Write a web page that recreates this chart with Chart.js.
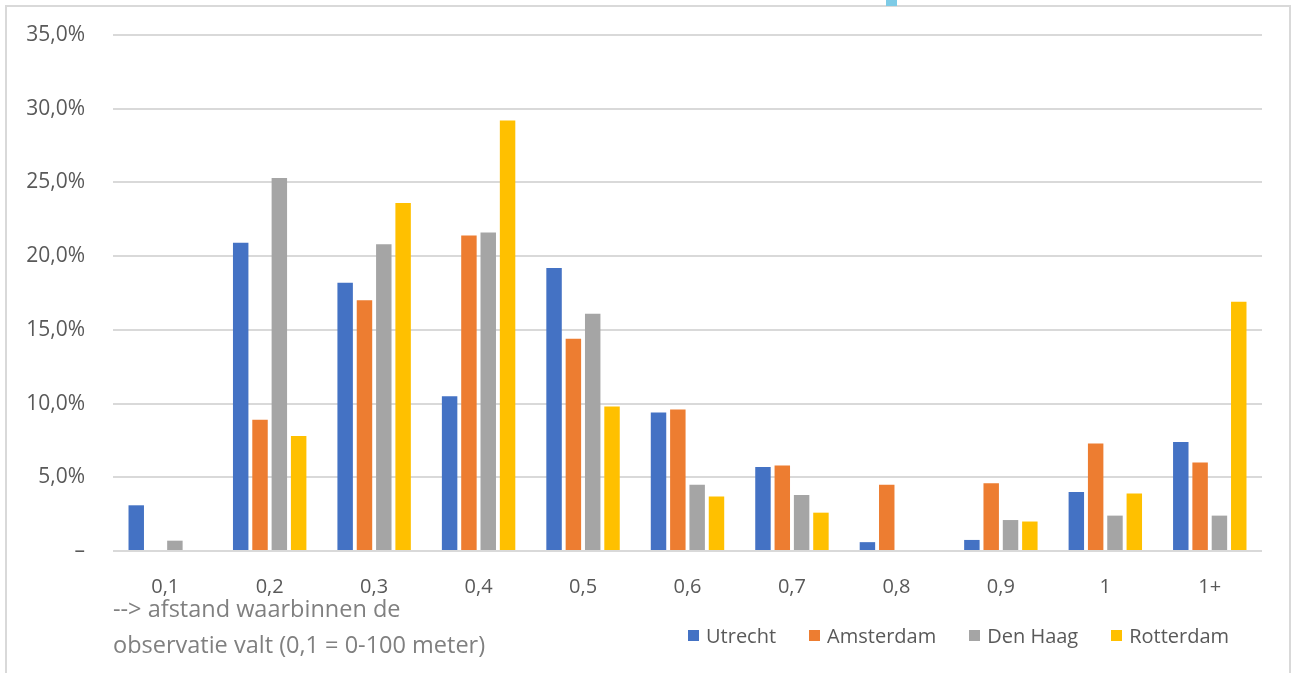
<!DOCTYPE html>
<html>
<head>
<meta charset="utf-8">
<script src="https://cdn.jsdelivr.net/npm/chart.js@4/dist/chart.umd.min.js"></script>
<style>
  html, body { margin: 0; padding: 0; background: #fff; }
  #wrap { position: relative; width: 1295px; height: 673px; overflow: hidden; }
  #frame { position: absolute; left: 5px; top: 5px; width: 1286px; height: 700px; border: 2px solid #d9d9d9; box-sizing: border-box; }
  #blip { position: absolute; left: 886px; top: 0; width: 11px; height: 6px; background: #7ecbe6; }
  #chart { position: absolute; left: 0; top: 0; }
  #legend { position: absolute; left: 688px; top: 622px; display: flex; gap: 33px; font: 20px "Open Sans", sans-serif; color: #595959; }
  #legend span.item { display: flex; align-items: center; gap: 7px; }
  #legend span.sw { width: 11px; height: 11px; display: inline-block; }
</style>
</head>
<body>
<div id="wrap">
  <div id="frame"></div>
  <div id="blip"></div>
  <canvas id="chart" width="1295" height="673"></canvas>
  <div id="legend"></div>
</div>
<script>
// ---------------------------------------------------------------------------
// Data (percentages)
// ---------------------------------------------------------------------------
const categories = ["0,1", "0,2", "0,3", "0,4", "0,5", "0,6", "0,7", "0,8", "0,9", "1", "1+"];
const utrecht   = [3.1, 20.9, 18.2, 10.5, 19.2, 9.4, 5.7, 0.6, 0.75, 4.0, 7.4];
const amsterdam = [0, 8.9, 17.0, 21.4, 14.4, 9.6, 5.8, 4.5, 4.6, 7.3, 6.0];
const denHaag   = [0.7, 25.3, 20.8, 21.6, 16.1, 4.5, 3.8, 0, 2.1, 2.4, 2.4];
const rotterdam = [0, 7.8, 23.6, 29.2, 9.8, 3.7, 2.6, 0, 2.0, 3.9, 16.9];
const yTickLabels = ["–", "5,0%", "10,0%", "15,0%", "20,0%", "25,0%", "30,0%", "35,0%"];
const xTitle = ["--> afstand waarbinnen de", "observatie valt (0,1 = 0-100 meter)"];

const SERIES = [
  { label: "Utrecht", data: utrecht, color: "#4472C4" },
  { label: "Amsterdam", data: amsterdam, color: "#ED7D31" },
  { label: "Den Haag", data: denHaag, color: "#A5A5A5" },
  { label: "Rotterdam", data: rotterdam, color: "#FFC000" },
];

const FONT = "'Open Sans', sans-serif";

// ---------------------------------------------------------------------------
// Chart
// ---------------------------------------------------------------------------
new Chart(document.getElementById("chart"), {
  type: "bar",
  data: {
    labels: categories,
    datasets: SERIES.map(s => ({
      label: s.label,
      data: s.data,
      backgroundColor: s.color,
      borderWidth: 0,
      categoryPercentage: 0.74,
      barPercentage: 0.8,
    })),
  },
  options: {
    responsive: false,
    animation: false,
    layout: { padding: { top: 35, right: 33, left: 0, bottom: 0 } },
    plugins: { legend: { display: false }, tooltip: { enabled: false } },
    scales: {
      x: {
        grid: { display: false },
        border: { display: false },
        ticks: { color: "#595959", font: { family: FONT, size: 20 }, padding: 16 },
        title: {
          display: true,
          text: xTitle,
          align: "start",
          color: "#808080",
          font: { family: FONT, size: 23.5, lineHeight: 1.52 },
          padding: { top: 0, bottom: 9 },
        },
        afterFit: s => { s.height = 122; },
      },
      y: {
        min: 0,
        max: 35,
        // invisible tick marks give the label gap without padding the top
        grid: { color: "#d9d9d9", lineWidth: 2, drawTicks: true, tickLength: 28, tickColor: "rgba(0,0,0,0)" },
        border: { display: false },
        ticks: {
          stepSize: 5,
          color: "#595959",
          font: { family: FONT, size: 21 },
          padding: 0,
          callback: v => yTickLabels[Math.round(v / 5)],
        },
        afterFit: s => { s.width = 113; },
      },
    },
  },
});

// Legend
document.getElementById("legend").innerHTML = SERIES.map(s =>
  `<span class="item"><span class="sw" style="background:${s.color}"></span>${s.label}</span>`
).join("");
</script>
</body>
</html>
